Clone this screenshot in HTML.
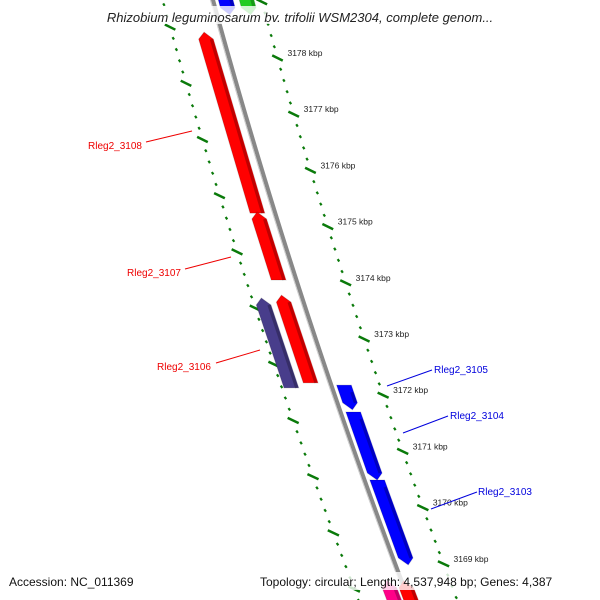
<!DOCTYPE html>
<html><head><meta charset="utf-8">
<style>
body{margin:0;background:#fff;}
#wrap{position:relative;width:600px;height:600px;overflow:hidden;background:#fff;font-family:"Liberation Sans",sans-serif;}
svg{position:absolute;left:0;top:0;}
</style></head>
<body>
<div id="wrap">
<svg id="map" width="600" height="600"></svg>
</div>
<script>
// data
const tickKbp = [3178,3177,3176,3175,3174,3173,3172,3171,3170,3169];
const geneNames = ["Rleg2_3108","Rleg2_3107","Rleg2_3106","Rleg2_3106b","Rleg2_3105","Rleg2_3104","Rleg2_3103","top-blue","top-green","bottom-pink","bottom-red"];
const geneStart = [3178.46,3175.26,3173.78,3173.73,3172.18,3171.70,3170.49,3179.6,3179.6,3168.7,3168.7];
const geneEnd   = [3175.24,3174.05,3172.22,3172.13,3171.74,3170.49,3168.98,3178.77,3178.77,3168.2,3168.2];
const geneStrand= [-1,-1,-1,-1,1,1,1,1,1,-1,-1];
const geneTrack = [-16,-16,-18,-38,13,13,13,13,33,-13,3];
const geneColor = ["#f00","#f00","#f00","#483d8b","#00f","#00f","#00f","#00f","#2c2","#f08","#f00"];

const svg=document.getElementById('map');
const NS='http://www.w3.org/2000/svg';
function yOf(k){return 58+(3178-k)*56.2;}
function bb(y){return 212+0.273*y+0.0000889*y*y;}
function P(y,off){return [bb(y)+off*1.05,y];}
function mk(tag,attrs,name){const e=document.createElementNS(NS,tag);for(const a in attrs)e.setAttribute(a,attrs[a]);


svg.appendChild(e);return e;}
function lineAlong(y1,y2,off){const pts=[];for(let y=y1;y<=y2;y+=5)pts.push(P(y,off).join(','));return pts.join(' ');}

// backbone
mk('polyline',{points:lineAlong(-10,610,1),fill:'none',stroke:'#888',"stroke-width":4},'backbone');
mk('polyline',{points:lineAlong(-10,610,-1.5),fill:'none',stroke:'#ccc',"stroke-width":1},'backbone-edge');

// tick rings
function ring(off,majorOffset,name){
  for(let k=3180;k>=3167;k-=0.2){
    const kk=k+majorOffset; const y=yOf(kk); if(y<-5||y>605)continue;
    const major=Math.abs(Math.round(k)-k)<0.01;
    const len=major?4:1.3;
    const a=P(y-len*0.9,off-len*0.3),b=P(y+len*0.9,off+len*0.3);
    mk('line',{x1:a[0]-(major?3:0),y1:a[1]+(major?1:0),x2:b[0]+(major?3:0),y2:b[1]-(major?1:0),stroke:'#0a7a0a',"stroke-width":major?2.5:2.2},name+(major?'-major-tick':'-minor-tick'));
  }
}
ring(47,0,'outer-ring');
ring(-47,-0.45,'inner-ring');
tickKbp.forEach(k=>{const y=yOf(k);const p=P(y,47);
  const t=mk('text',{x:p[0]+10,y:y-2,"font-size":8.5,fill:'#222'},'tick-label');t.textContent=k+' kbp';});

// genes
geneStart.forEach((s,i)=>{
  let y1=yOf(s),y2=yOf(geneEnd[i]);const off=geneTrack[i],w=7,h=7;
  const pts=[];
  if(geneStrand[i]<0){ // tip at top
    pts.push(P(y1,off));pts.push(P(y1+h,off+w));pts.push(P(y2,off+w));pts.push(P(y2,off-w));pts.push(P(y1+h,off-w));
  } else {
    pts.push(P(y1,off-w));pts.push(P(y1,off+w));pts.push(P(y2-h,off+w));pts.push(P(y2,off));pts.push(P(y2-h,off-w));
  }
  mk('polygon',{points:pts.map(p=>p.join(',')).join(' '),fill:geneColor[i],stroke:'rgba(0,0,0,0.15)',"stroke-width":1},'gene-'+geneNames[i]);
  mk('polyline',{points:[P(y1+h,off+w-2),P(y2-(geneStrand[i]>0?h:0),off+w-2)].map(p=>p.join(',')).join(' '),stroke:'rgba(0,0,0,0.25)',"stroke-width":3,fill:'none'},'gene-shade');
});

// labels
const labText=["Rleg2_3108","Rleg2_3107","Rleg2_3106","Rleg2_3105","Rleg2_3104","Rleg2_3103"];
const labX=[88,127,157,434,450,478];
const labY=[149,276,370,373,419,495];
const labCol=["#e00","#e00","#e00","#00d","#00d","#00d"];
const lineXY=[[146,142,192,131],[185,269,231,257],[216,363,260,350],[387,386,432,370],[403,433,448,416],[431,509,477,492]];
labText.forEach((t,i)=>{
  const l=lineXY[i];
  mk('line',{x1:l[0],y1:l[1],x2:l[2],y2:l[3],stroke:labCol[i],"stroke-width":1},'label-line');
  const e=mk('text',{x:labX[i],y:labY[i],"font-size":10,fill:labCol[i]},'gene-label');e.textContent=t;
});

// title & footer
mk('rect',{x:60,y:6,width:480,height:18,fill:'rgba(255,255,255,0.8)'},'title-bg');
let tt=mk('text',{x:300,y:22,"font-size":13,"font-style":'italic',fill:'#222',"text-anchor":'middle'},'title');
tt.textContent='Rhizobium leguminosarum bv. trifolii WSM2304, complete genom...';
mk('rect',{x:0,y:572,width:600,height:18,fill:'rgba(255,255,255,0.8)'},'footer-bg');
let f1=mk('text',{x:9,y:586,"font-size":12,fill:'#111'},'accession');f1.textContent='Accession: NC_011369';
let f2=mk('text',{x:260,y:586,"font-size":12,fill:'#111'},'genome-info');f2.textContent='Topology: circular; Length: 4,537,948 bp; Genes: 4,387';
</script>
</body></html>
